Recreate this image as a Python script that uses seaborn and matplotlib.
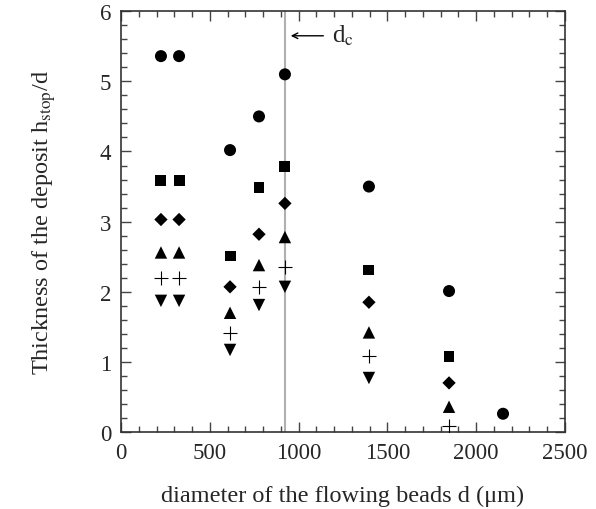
import numpy as np
import pandas as pd
import matplotlib
matplotlib.use("Agg")
import matplotlib.pyplot as plt
import seaborn as sns
from matplotlib.ticker import MultipleLocator

# bead diameters (um) for each column of points
d_beads = [225, 327, 614, 777, 923, 1396, 1847, 2151]

# h_stop/d for each series (None = no point)
circles = [5.36, 5.36, 4.02, 4.50, 5.10, 3.50, 2.01, 0.26]
squares = [3.59, 3.59, 2.51, 3.49, 3.79, 2.31, 1.07, None]
diamonds = [3.03, 3.03, 2.07, 2.82, 3.26, 1.85, 0.70, None]
triangles = [2.56, 2.56, 1.70, 2.38, 2.78, 1.42, 0.36, None]
crosses = [2.19, 2.19, 1.41, 2.07, 2.35, 1.08, 0.09, None]
down_tri = [1.87, 1.87, 1.17, 1.81, 2.07, 0.77, None, None]

d_c = 925

sns.set_style("ticks")
plt.rcParams['font.family'] = ['Liberation Serif', 'DejaVu Serif']
plt.rcParams['mathtext.fontset'] = 'stix'

fig = plt.figure(figsize=(5.96, 5.10), dpi=100)
ax = fig.add_axes([0.203, 0.151, 0.745, 0.825])

ax.axvline(d_c, color="#b0b0b0", lw=1.5, zorder=1)

# marker, size for each series
styles = [(circles, "o", 75), (squares, "s", 62), (diamonds, "D", 46),
          (triangles, "^", 80), (down_tri, "v", 80)]
for vals, m, s in styles:
    df = pd.DataFrame({"d": d_beads, "h": vals}).dropna()
    sns.scatterplot(data=df, x="d", y="h", marker=m, color="black",
                    edgecolor="none", s=s, legend=False, ax=ax, zorder=3)
df = pd.DataFrame({"d": d_beads, "h": crosses}).dropna()
sns.scatterplot(data=df, x="d", y="h", marker="+", color="black",
                s=110, linewidth=0.8, legend=False, ax=ax, zorder=3)

ax.set_xlim(0, 2500)
ax.set_ylim(0, 6)
ax.xaxis.set_major_locator(MultipleLocator(500))
ax.xaxis.set_minor_locator(MultipleLocator(100))
ax.yaxis.set_major_locator(MultipleLocator(1))
ax.yaxis.set_minor_locator(MultipleLocator(0.2))
ax.tick_params(which="both", direction="in", top=True, right=True,
               labelsize=16.5, width=1, color="#444444")
ax.tick_params(which="major", length=7, pad=7)
ax.tick_params(which="minor", length=4)
for sp in ax.spines.values():
    sp.set_linewidth(1.2)
    sp.set_color("#333333")

ax.set_xlabel("diameter of the flowing beads d (μm)", fontsize=17.5,
              labelpad=16)
ax.set_ylabel(r"Thickness of the deposit h$_{\rm stop}$/d", fontsize=17.5,
              labelpad=30)

ax.annotate("", xy=(d_c + 15, 5.65), xytext=(d_c + 230, 5.65),
            arrowprops=dict(arrowstyle="->", color="black", lw=1))
ax.text(d_c + 265, 5.66, r"d$_{\rm c}$", fontsize=18, va="center")

fig.savefig("out.png", dpi=100)
